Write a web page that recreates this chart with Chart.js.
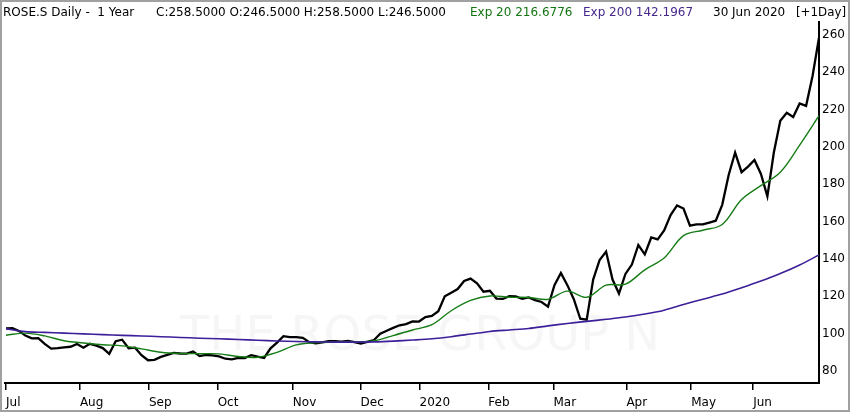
<!DOCTYPE html>
<html>
<head>
<meta charset="utf-8">
<script src="https://cdn.jsdelivr.net/npm/chart.js@4.4.1/dist/chart.umd.min.js"></script>
<style>
  body { margin: 0; background: #fff; }
  canvas { display: block; }
</style>
</head>
<body>
<canvas id="grafico" width="850" height="412"></canvas>
<script>
// trading-day index of each month tick
const monthTicks = [0, 22.9, 44.3, 65.6, 88.9, 109.9, 128.2, 149.5, 169.7, 192.3, 212.4, 231.6];
const monthLabels = ['Jul', 'Aug', 'Sep', 'Oct', 'Nov', 'Dec', '2020', 'Feb', 'Mar', 'Apr', 'May', 'Jun'];
const priceTicks = [80, 100, 120, 140, 160, 180, 200, 220, 240, 260];

// close, one value every 2 trading days
const priceStep = 2;
const closes = [
    102.8, 103, 101.5, 99, 97.5, 97.6, 94.5, 92, 92.3, 92.7,
    93, 94.5, 92.5, 94.6, 93.6, 92.3, 89.2, 96, 96.8, 92.2,
    92.5, 88.5, 85.8, 86, 87.6, 88.7, 89.7, 89.4, 89.3, 90.5,
    88, 88.6, 88.4, 87.8, 86.6, 86.3, 87, 86.9, 88.5, 87.7,
    87, 92.2, 95.2, 98.7, 98.2, 98.2, 97.8, 95.5, 94.8, 95.3,
    96, 96, 95.8, 96.1, 95.5, 94.7, 95.6, 96.5, 100, 101.6,
    103.1, 104.5, 105.1, 106.6, 106.5, 108.9, 109.5, 112, 120, 121.9,
    123.9, 128.2, 129.5, 127, 122.5, 123, 118.8, 118.6, 120.1, 120,
    118.7, 119.4, 118, 117, 114.5, 126, 132.5, 126, 118.5, 108,
    107.5, 129, 139.5, 144, 129, 121.5, 132, 137, 147.5, 142.5,
    151.5, 150.5, 155.3, 163.5, 168.7, 167, 157.8, 158.5, 158.5, 159.5,
    160.5, 169, 185, 197, 186.5, 189.5, 193, 185.5, 173.5, 197,
    214, 218.3, 216, 223.3, 222, 238, 258.5
];

// moving averages, one value every 6 trading days
const emaStep = 6;
const exp20 = [
    99.2, 100.3, 98.8, 96.2, 95, 94.1, 93.5, 91.9, 90.1, 89.4,
    89.3, 89.2, 87.8, 87.4, 90, 94, 95.2, 95.6, 95.6, 96.2,
    99, 102, 104.8, 112.3, 117.8, 120.2, 119.5, 119.4, 118.4, 122.8,
    119.5, 126, 126.5, 134.2, 140.5, 152.5, 155.4, 158.5, 171.8, 179.3,
    186.5, 201, 216.7
];
const exp200 = [
    102.6, 101.1, 100.7, 100.3, 99.9, 99.5, 99.1, 98.8, 98.4, 98,
    97.6, 97.3, 96.9, 96.5, 96.1, 95.8, 95.6, 95.5, 95.5, 95.6,
    96, 96.6, 97.3, 98.4, 99.8, 101.2, 102, 102.8, 104.2, 105.5,
    106.6, 107.7, 108.9, 110.5, 112.6, 115.6, 118.5, 121.2, 124.6, 128.2,
    132.2, 136.8, 142.2
];

function toPoints(values, step) {
    return values.map((v, i) => ({ x: i * step, y: v }));
}

const fonte = 'DejaVu Sans, sans-serif';

const cabecalho = {
    id: 'cabecalho',
    beforeDraw(chart) {
        const ctx = chart.ctx;
        ctx.save();
        ctx.fillStyle = '#fff';
        ctx.fillRect(0, 0, chart.width, chart.height);
        ctx.restore();
    },
    beforeDatasetsDraw(chart) {
        const ctx = chart.ctx;
        ctx.save();
        ctx.font = '48px ' + fonte;
        ctx.fillStyle = '#f6f6f6';
        ctx.textAlign = 'center';
        ctx.textBaseline = 'middle';
        ctx.fillText('THE ROSE GROUP N', 420, 338, 480);
        ctx.restore();
    },
    afterDraw(chart) {
        const ctx = chart.ctx;
        ctx.save();
        ctx.font = '12px ' + fonte;
        ctx.textBaseline = 'middle';
        const partes = [
            ['ROSE.S Daily -  1 Year', 3, 140, '#000'],
            ['C:258.5000 O:246.5000 H:258.5000 L:246.5000', 156, 307, '#000'],
            ['Exp 20 216.6776', 470, 107, '#127512'],
            ['Exp 200 142.1967', 583, 114, '#47288c'],
            ['30 Jun 2020', 713, 77, '#000'],
            ['[+1Day]', 796, 50, '#000']
        ];
        for (let p of partes) {
            ctx.fillStyle = p[3];
            ctx.fillText(p[0], p[1], 13, p[2]);
        }
        ctx.strokeStyle = '#a0a0a0';
        ctx.lineWidth = 2;
        ctx.strokeRect(1, 1, chart.width - 2, chart.height - 2);
        ctx.restore();
    }
};

document.addEventListener('DOMContentLoaded', () => {
    const ctx = document.getElementById('grafico').getContext('2d');
    new Chart(ctx, {
        type: 'line',
        data: {
            datasets: [
                {
                    label: 'Exp 200',
                    data: toPoints(exp200, emaStep),
                    borderColor: '#3d1f9a',
                    borderWidth: 1.6,
                    pointRadius: 0,
                    tension: 0.3
                },
                {
                    label: 'Exp 20',
                    data: toPoints(exp20, emaStep),
                    borderColor: '#167d16',
                    borderWidth: 1.4,
                    pointRadius: 0,
                    tension: 0.35
                },
                {
                    label: 'ROSE.S',
                    data: toPoints(closes, priceStep),
                    borderColor: '#000',
                    borderWidth: 2.3,
                    pointRadius: 0,
                    tension: 0
                }
            ]
        },
        options: {
            responsive: false,
            animation: false,
            layout: { padding: { left: 4, top: 22, right: 0, bottom: 0 } },
            plugins: {
                legend: { display: false },
                tooltip: { enabled: false }
            },
            scales: {
                x: {
                    type: 'linear',
                    min: -0.3,
                    max: 252,
                    afterBuildTicks: (scale) => {
                        scale.ticks = monthTicks.map(v => ({ value: v }));
                    },
                    afterFit: (scale) => { scale.height = 29; },
                    ticks: {
                        autoSkip: false,
                        maxRotation: 0,
                        align: 'start',
                        padding: 6,
                        color: '#000',
                        font: { family: fonte, size: 12 },
                        callback: (value) => monthLabels[monthTicks.indexOf(value)]
                    },
                    grid: {
                        drawOnChartArea: false,
                        drawTicks: true,
                        tickLength: 7,
                        color: '#000',
                        lineWidth: 1.5
                    },
                    border: { display: true, color: '#000', width: 2 }
                },
                y: {
                    position: 'right',
                    min: 73.6,
                    max: 266.9,
                    afterBuildTicks: (scale) => {
                        scale.ticks = priceTicks.map(v => ({ value: v }));
                    },
                    afterFit: (scale) => { scale.width = 31; },
                    ticks: {
                        padding: 3,
                        color: '#000',
                        font: { family: fonte, size: 12 }
                    },
                    grid: { drawOnChartArea: false, drawTicks: false },
                    border: { display: true, color: '#000', width: 2 }
                }
            }
        },
        plugins: [cabecalho]
    });
});
</script>
</body>
</html>
